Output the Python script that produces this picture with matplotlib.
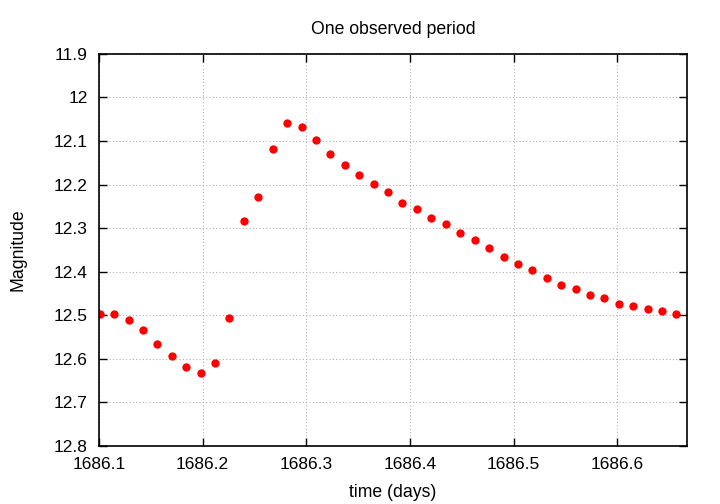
import matplotlib
matplotlib.use("Agg")
import matplotlib.pyplot as plt
from matplotlib.ticker import FormatStrFormatter, FuncFormatter

plt.rcParams['font.family'] = ['Liberation Sans', 'DejaVu Sans']

# time (days) and magnitude
time_days = [
    1686.1006, 1686.1145, 1686.1286, 1686.1424, 1686.1563, 1686.1704, 1686.1842,
    1686.1980, 1686.2119, 1686.2257, 1686.2398, 1686.2536, 1686.2675, 1686.2816,
    1686.2954, 1686.3093, 1686.3231, 1686.3369, 1686.3510, 1686.3649, 1686.3787,
    1686.3925, 1686.4067, 1686.4205, 1686.4343, 1686.4484, 1686.4623, 1686.4761,
    1686.4902, 1686.5041, 1686.5179, 1686.5317, 1686.5458, 1686.5597, 1686.5735,
    1686.5873, 1686.6011, 1686.6153, 1686.6291, 1686.6429, 1686.6567,
]
magnitude = [
    12.497, 12.497, 12.511, 12.533, 12.565, 12.593, 12.618,
    12.632, 12.609, 12.505, 12.284, 12.228, 12.119, 12.058,
    12.068, 12.098, 12.129, 12.154, 12.177, 12.198, 12.218,
    12.242, 12.256, 12.277, 12.290, 12.312, 12.328, 12.346,
    12.365, 12.383, 12.397, 12.414, 12.430, 12.440, 12.453,
    12.460, 12.473, 12.479, 12.486, 12.490, 12.497,
]
x_ticks = [1686.1, 1686.2, 1686.3, 1686.4, 1686.5, 1686.6]
y_ticks = [11.9, 12.0, 12.1, 12.2, 12.3, 12.4, 12.5, 12.6, 12.7, 12.8]

fig = plt.figure(figsize=(7.2, 5.04), dpi=100)
ax = fig.add_axes([0.1375, 0.115, 0.8165, 0.778])

ax.plot(time_days, magnitude, 'o', color='#ff0000', markersize=6, markeredgewidth=0)

ax.set_xlim(1686.1, 1686.667)
ax.set_ylim(12.8, 11.9)
ax.set_xticks(x_ticks)
ax.set_yticks(y_ticks)
ax.xaxis.set_major_formatter(FormatStrFormatter('%.1f'))
ax.yaxis.set_major_formatter(FuncFormatter(lambda v, p: '%g' % round(v, 1)))

ax.grid(True, color='#b0b0b0', linestyle=(0, (1, 2)), linewidth=0.8)
ax.set_axisbelow(True)
ax.tick_params(direction='in', length=6, width=1, top=True, right=True,
               labelsize=12.5, pad=8, colors='black')
for s in ax.spines.values():
    s.set_linewidth(1.2)

ax.set_title('One observed period', fontsize=12.7, pad=14)
ax.set_xlabel('time (days)', fontsize=12.7, labelpad=8.5)
ax.set_ylabel('Magnitude', fontsize=12.7, labelpad=20)

fig.savefig('out.png', dpi=100)
